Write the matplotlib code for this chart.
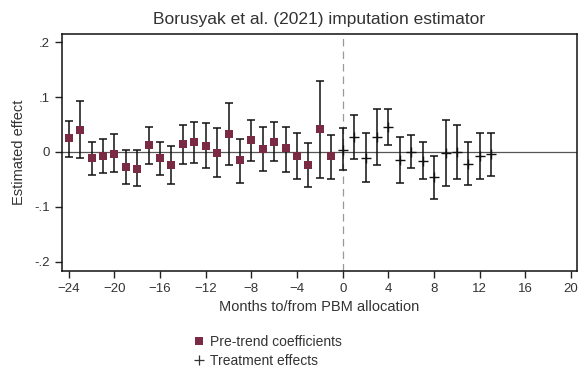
import matplotlib.pyplot as plt
from matplotlib.lines import Line2D
import numpy as np

plt.rcParams['font.family'] = ['Liberation Sans', 'DejaVu Sans']

# Pre-trend coefficients (months -24 .. -1)
pre_months = list(range(-24, 0))
pre_coef = [0.025, 0.040, -0.011, -0.007, -0.003, -0.028, -0.031, 0.012,
            -0.011, -0.024, 0.014, 0.019, 0.010, -0.001, 0.032, -0.015,
            0.021, 0.006, 0.019, 0.007, -0.007, -0.023, 0.042, -0.008]
pre_lo = [-0.009, -0.011, -0.041, -0.038, -0.036, -0.058, -0.062, -0.022,
          -0.041, -0.059, -0.022, -0.020, -0.030, -0.045, -0.024, -0.056,
          -0.017, -0.034, -0.016, -0.037, -0.049, -0.064, -0.047, -0.049]
pre_hi = [0.057, 0.093, 0.019, 0.024, 0.033, 0.004, 0.004, 0.046,
          0.019, 0.010, 0.049, 0.055, 0.053, 0.044, 0.089, 0.024,
          0.059, 0.046, 0.055, 0.046, 0.035, 0.017, 0.129, 0.031]

# Treatment effects (months 0 .. 13)
post_months = list(range(0, 14))
post_coef = [0.004, 0.028, -0.011, 0.028, 0.045, -0.014, 0.000, -0.016,
             -0.046, -0.002, 0.000, -0.021, -0.008, -0.004]
post_lo = [-0.033, -0.013, -0.055, -0.023, 0.012, -0.057, -0.030, -0.050,
           -0.085, -0.062, -0.049, -0.060, -0.050, -0.044]
post_hi = [0.043, 0.068, 0.035, 0.079, 0.079, 0.028, 0.030, 0.019,
           -0.007, 0.058, 0.049, 0.019, 0.035, 0.035]

xticks = list(range(-24, 21, 4))
yticks = [-0.2, -0.1, 0, 0.1, 0.2]
ytick_labels = ['-.2', '-.1', '0', '.1', '.2']

pre_color = '#7b2a44'

fig = plt.figure(figsize=(5.78, 3.72), dpi=100)
ax = fig.add_axes([0.107, 0.2715, 0.891, 0.637])

ax.axhline(0, color='#555555', lw=0.9, zorder=1)
ax.axvline(0, color='#999999', lw=0.9, ls=(0, (6, 4)), zorder=1)

pre_coef = np.array(pre_coef)
post_coef = np.array(post_coef)
pre_err = [pre_coef - np.array(pre_lo), np.array(pre_hi) - pre_coef]
post_err = [post_coef - np.array(post_lo), np.array(post_hi) - post_coef]

ax.errorbar(pre_months, pre_coef, yerr=pre_err, fmt='none',
            ecolor='#111111', elinewidth=1.1, capsize=3, capthick=1.1,
            zorder=2)
ax.plot(pre_months, pre_coef, 's', color=pre_color, ms=6.3, mew=0, zorder=3)
ax.errorbar(post_months, post_coef, yerr=post_err, fmt='none',
            ecolor='#111111', elinewidth=1.1, capsize=3, capthick=1.1,
            zorder=2)
ax.plot(post_months, post_coef, '+', color='#111111', ms=7, mew=1.0,
        zorder=3)

ax.set_xlim(-24.6, 20.5)
ax.set_ylim(-0.2164, 0.2145)
ax.set_xticks(xticks)
ax.set_yticks(yticks)
ax.set_yticklabels(ytick_labels)
ax.tick_params(direction='out', length=5, width=1, labelsize=9.5,
               colors='#222222', labelcolor='#333333')
for s in ax.spines.values():
    s.set_linewidth(1.1)
    s.set_color('#111111')

ax.set_xlabel('Months to/from PBM allocation', fontsize=10.5, color='#333333',
              labelpad=4)
ax.set_ylabel('Estimated effect', fontsize=10.5, color='#333333', labelpad=6)
ax.set_title('Borusyak et al. (2021) imputation estimator', fontsize=12.5,
             color='#333333', pad=7)

handles = [
    Line2D([], [], ls='none', marker='s', color=pre_color, ms=5.5, mew=0),
    Line2D([], [], ls='none', marker='+', color='#333333', ms=7, mew=0.9),
]
fig.legend(handles, ['Pre-trend coefficients', 'Treatment effects'],
           loc='upper left', bbox_to_anchor=(0.335, 0.0985), frameon=False,
           fontsize=10, handlelength=0.8, handletextpad=0.4,
           labelspacing=0.35, borderpad=0, borderaxespad=0,
           labelcolor='#333333')

fig.savefig('out.png', dpi=100)
